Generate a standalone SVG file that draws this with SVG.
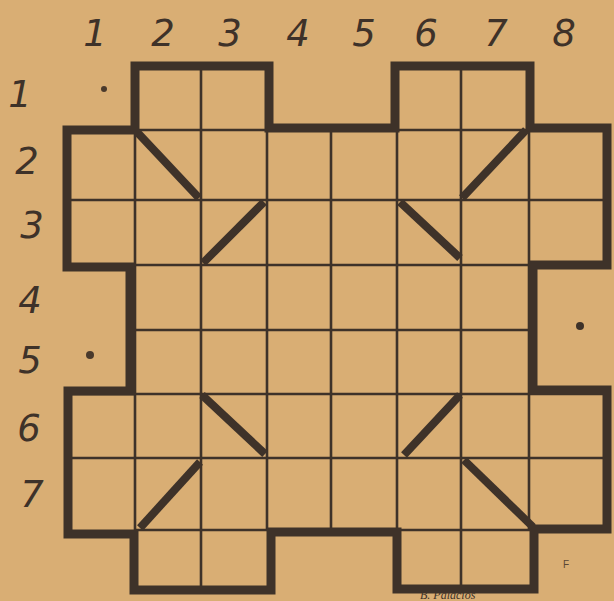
<svg xmlns="http://www.w3.org/2000/svg" width="614" height="601" viewBox="0 0 614 601">
<style>
.bg{fill:#d9ae74}
.thin{stroke:#3e3229;stroke-width:2.6;fill:none}
.thick{stroke:#3e3229;stroke-width:9;fill:none;stroke-linejoin:miter}
.diag{stroke:#3e3229;stroke-width:8;stroke-linecap:butt}
.lbl{font-family:"DejaVu Sans",sans-serif;font-size:37px;fill:#3e3229;text-anchor:middle;font-style:italic;font-weight:300}
.sig{font-family:"Liberation Serif",serif;font-size:12px;fill:#3e3229;font-style:italic}
</style>
<rect class="bg" x="0" y="0" width="614" height="601"/>
<g id="labels-cols">
<text class="lbl" x="95" y="46">1</text>
<text class="lbl" x="163" y="46">2</text>
<text class="lbl" x="230" y="46">3</text>
<text class="lbl" x="298" y="46">4</text>
<text class="lbl" x="364" y="46">5</text>
<text class="lbl" x="426" y="46">6</text>
<text class="lbl" x="496" y="46">7</text>
<text class="lbl" x="564" y="46">8</text>
</g>
<g id="labels-rows">
<text class="lbl" x="20" y="107">1</text>
<text class="lbl" x="27" y="174">2</text>
<text class="lbl" x="32" y="238">3</text>
<text class="lbl" x="30" y="313">4</text>
<text class="lbl" x="30" y="373">5</text>
<text class="lbl" x="29" y="441">6</text>
<text class="lbl" x="32" y="507">7</text>
</g>
<g id="grid">
<path class="thin" d="M135 130V532 M201 66V590 M267 130V530 M331 130V530 M397 130V530 M461 66V590 M529 130V530"/>
<path class="thin" d="M135 130H530 M68 200H607 M68 265H607 M130 330H532 M68 394H607 M68 458H607 M135 530H532"/>
</g>
<g id="outline">
<path class="thick" d="M135 66H269V128H395V66H530V128H607V265H533V390H607V529H534V589H397V532H271V590H134V534H68V391H130V267H67V130H135Z"/>
</g>
<g id="diagonals">
<line class="diag" x1="137" y1="132" x2="199" y2="198"/>
<line class="diag" x1="264" y1="202" x2="203" y2="263"/>
<line class="diag" x1="526" y1="130" x2="462" y2="198"/>
<line class="diag" x1="400" y1="202" x2="460" y2="258"/>
<line class="diag" x1="202" y1="395" x2="265" y2="454"/>
<line class="diag" x1="200" y1="462" x2="140" y2="528"/>
<line class="diag" x1="460" y1="395" x2="404" y2="455"/>
<line class="diag" x1="464" y1="460" x2="533" y2="527"/>
</g>
<g id="marks">
<circle cx="104" cy="89" r="3" fill="#4a3a2c"/>
<circle cx="90" cy="355" r="4" fill="#4a3a2c"/>
<circle cx="580" cy="326" r="4" fill="#3e3229"/>
<text x="563" y="568" font-family="Liberation Sans,sans-serif" font-size="10" fill="#5a4634">F</text>
<text class="sig" x="420" y="599">B. Palacios</text>
</g>
</svg>
